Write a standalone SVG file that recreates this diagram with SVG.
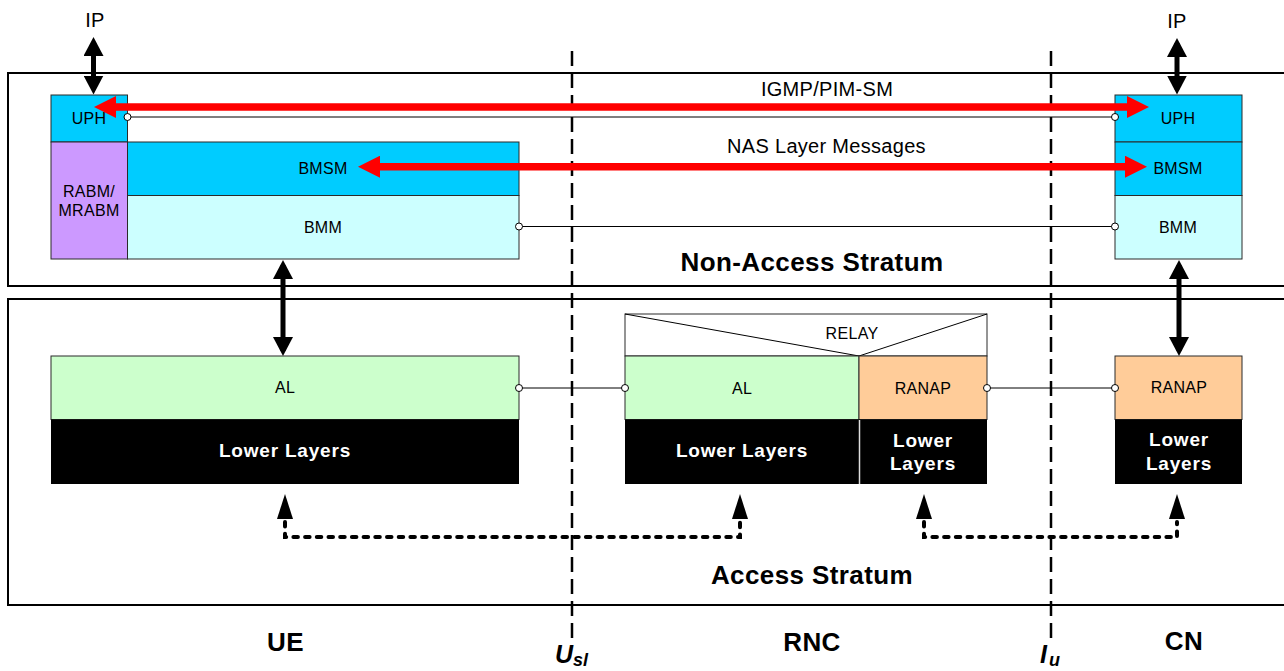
<svg xmlns="http://www.w3.org/2000/svg" width="1284" height="671" viewBox="0 0 1284 671">
<style>
.frame{fill:none;stroke:#000;stroke-width:2}
.box{stroke:#2a2a2a;stroke-width:1}
.uph{fill:#00CCFF}
.bmm{fill:#CCFFFF}
.rabm{fill:#CC99FF}
.al{fill:#CCFFCC}
.ranap{fill:#FFCC99}
.ll{fill:#000}
.t{font-family:"Liberation Sans",Arial,sans-serif;font-size:16px;text-anchor:middle;fill:#000;letter-spacing:0.3px}
.mid{font-size:20px}
.lw{font-weight:bold;fill:#fff;font-size:19px;letter-spacing:0.8px}
.big{font-weight:bold;font-size:26px;letter-spacing:0.4px}
.ifc{font-family:"Liberation Sans",Arial,sans-serif;font-weight:bold;font-style:italic;fill:#000}
.dash{stroke:#000;stroke-width:2.5;stroke-dasharray:15 7;fill:none}
.thin{stroke:#000;stroke-width:1;fill:none}
.port{fill:#fff;stroke:#000;stroke-width:1}
.red{stroke:#FF0000;stroke-width:7.5;fill:none}
.blk{stroke:#000;stroke-width:5;fill:none}
.dot{stroke:#000;stroke-width:4;fill:none;stroke-linecap:round;stroke-dasharray:4.5 7.2}
</style>
<defs>
<marker id="mRed" markerUnits="userSpaceOnUse" markerWidth="22" markerHeight="22" viewBox="0 0 22 22" refX="13" refY="11" orient="auto-start-reverse">
<path d="M0,0 L22,11 L0,22 z" fill="#FF0000"/>
</marker>
<marker id="mBlk" markerUnits="userSpaceOnUse" markerWidth="20" markerHeight="20" viewBox="0 0 20 20" refX="14" refY="10" orient="auto-start-reverse">
<path d="M0,0 L19,10 L0,20 z" fill="#000"/>
</marker>
<marker id="mDot" markerUnits="userSpaceOnUse" markerWidth="30" markerHeight="16" viewBox="-3 0 30 16" refX="-3" refY="8" orient="auto-start-reverse">
<path d="M0,0 L25,8 L0,16 z" fill="#000"/>
</marker>
</defs>
<rect width="1284" height="671" fill="#fff"/>

<g id="strata">
<rect id="nas-frame" class="frame" x="8" y="73" width="1290" height="213"/>
<rect id="as-frame" class="frame" x="8" y="299" width="1290" height="306"/>
<text class="t big" x="812" y="271">Non-Access Stratum</text>
<text class="t big" x="812" y="584">Access Stratum</text>
</g>

<g id="boundaries">
<line class="dash" x1="572" y1="51" x2="572" y2="645"/>
<line class="dash" x1="1051" y1="51" x2="1051" y2="645"/>
</g>

<g id="ue">
<g id="ue-uph"><rect class="box uph" x="51" y="95" width="76.5" height="47"/><text class="t" x="89" y="124">UPH</text></g>
<g id="ue-rabm"><rect class="box rabm" x="51" y="142" width="76.5" height="117"/><text class="t" x="89" y="197">RABM/</text><text class="t" x="89" y="216">MRABM</text></g>
<g id="ue-bmsm"><rect class="box uph" x="127.5" y="142" width="391.5" height="53.5"/><text class="t" x="323" y="174">BMSM</text></g>
<g id="ue-bmm"><rect class="box bmm" x="127.5" y="195.5" width="391.5" height="63.5"/><text class="t" x="323" y="233">BMM</text></g>
<g id="ue-al"><rect class="box al" x="51" y="356" width="468" height="63.5"/><text class="t" x="285" y="393">AL</text></g>
<g id="ue-lower"><rect class="ll" x="51" y="419.5" width="468" height="64.5"/><text class="t lw" x="285" y="457">Lower Layers</text></g>
</g>

<g id="rnc">
<g id="rnc-relay"><rect class="box" fill="#fff" x="625" y="314" width="362" height="42"/><polyline class="thin" points="625,314 859,356 987,314"/><text class="t" x="852" y="339">RELAY</text></g>
<g id="rnc-al"><rect class="box al" x="625" y="356" width="234" height="63.5"/><text class="t" x="742" y="394">AL</text></g>
<g id="rnc-ranap"><rect class="box ranap" x="859" y="356" width="128" height="63.5"/><text class="t" x="923" y="394">RANAP</text></g>
<g id="rnc-lower-al"><rect class="ll" x="625" y="419.5" width="234" height="64.5"/><text class="t lw" x="742" y="457">Lower Layers</text></g>
<g id="rnc-lower-ranap"><rect class="ll" x="859" y="419.5" width="128" height="64.5"/><line x1="859.5" y1="420" x2="859.5" y2="484" stroke="#ddd" stroke-width="1.5"/><text class="t lw" x="923" y="447">Lower</text><text class="t lw" x="923" y="470">Layers</text></g>
</g>

<g id="cn">
<g id="cn-uph"><rect class="box uph" x="1115" y="95" width="127" height="47"/><text class="t" x="1178" y="124">UPH</text></g>
<g id="cn-bmsm"><rect class="box uph" x="1115" y="142" width="127" height="53.5"/><text class="t" x="1178" y="174">BMSM</text></g>
<g id="cn-bmm"><rect class="box bmm" x="1115" y="195.5" width="127" height="63.5"/><text class="t" x="1178" y="233">BMM</text></g>
<g id="cn-ranap"><rect class="box ranap" x="1115" y="356" width="127" height="63.5"/><text class="t" x="1179" y="393">RANAP</text></g>
<g id="cn-lower"><rect class="ll" x="1115" y="419.5" width="127" height="64.5"/><text class="t lw" x="1179" y="446">Lower</text><text class="t lw" x="1179" y="470">Layers</text></g>
</g>

<g id="labels">
<text class="t mid" x="95" y="27">IP</text>
<text class="t mid" x="1177" y="28">IP</text>
<text class="t mid" x="827" y="96">IGMP/PIM-SM</text>
<text class="t mid" x="826.5" y="153">NAS Layer Messages</text>
<text class="t big" x="285.5" y="651">UE</text>
<text class="t big" x="812" y="651">RNC</text>
<text class="t big" x="1184" y="650">CN</text>
<text class="ifc" x="555" y="663" font-size="25">U<tspan font-size="18" dy="3">sl</tspan></text>
<text class="ifc" x="1040" y="663" font-size="25">I<tspan font-size="18" dy="3" dx="2">u</tspan></text>
</g>

<g id="connectors">
<line class="thin" x1="127.5" y1="117" x2="1115" y2="117"/>
<line class="thin" x1="519" y1="226.5" x2="1115" y2="226.5"/>
<line class="thin" x1="519" y1="388" x2="625" y2="388"/>
<line class="thin" x1="987" y1="388" x2="1115" y2="388"/>
<circle class="port" cx="127.5" cy="117" r="3.5"/>
<circle class="port" cx="1115" cy="117" r="3.5"/>
<circle class="port" cx="519" cy="226.5" r="3.5"/>
<circle class="port" cx="1115" cy="226.5" r="3.5"/>
<circle class="port" cx="519" cy="388" r="3.5"/>
<circle class="port" cx="625" cy="388" r="3.5"/>
<circle class="port" cx="987" cy="388" r="3.5"/>
<circle class="port" cx="1115" cy="388" r="3.5"/>

<line class="red" x1="103" y1="107" x2="1140" y2="107" marker-start="url(#mRed)" marker-end="url(#mRed)"/>
<line class="red" x1="367" y1="166.7" x2="1138" y2="166.7" marker-start="url(#mRed)" marker-end="url(#mRed)"/>

<line class="blk" x1="93.5" y1="42" x2="93.5" y2="89.5" marker-start="url(#mBlk)" marker-end="url(#mBlk)"/>
<line class="blk" x1="1177" y1="43" x2="1177" y2="89.5" marker-start="url(#mBlk)" marker-end="url(#mBlk)"/>
<line class="blk" x1="283" y1="265" x2="283" y2="351" marker-start="url(#mBlk)" marker-end="url(#mBlk)"/>
<line class="blk" x1="1179" y1="265" x2="1179" y2="351" marker-start="url(#mBlk)" marker-end="url(#mBlk)"/>

<path class="dot" d="M285,522 L285,537 L740,537 L740,522" marker-start="url(#mDot)" marker-end="url(#mDot)"/>
<path class="dot" d="M924,522 L924,537 L1177,537 L1177,522" marker-start="url(#mDot)" marker-end="url(#mDot)"/>
</g>
</svg>
